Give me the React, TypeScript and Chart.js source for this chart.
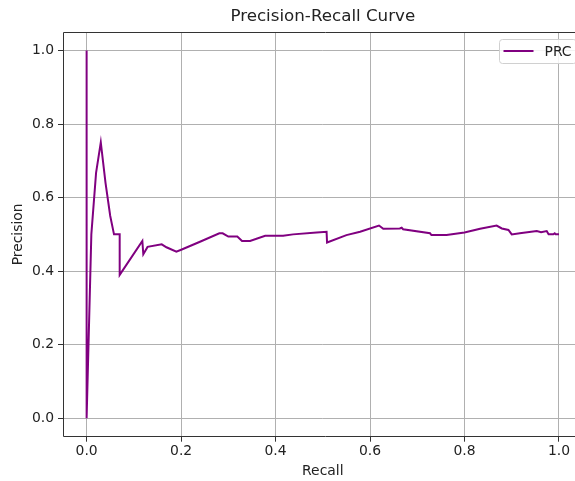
import React, { useEffect, useRef } from "react";
import { Chart, registerables } from "chart.js";

Chart.register(...registerables);

const chartTitle = "Precision-Recall Curve";
const xAxisTitle = "Recall";
const yAxisTitle = "Precision";
const seriesLabel = "PRC";

const recall = [
  0, 0, 0.01, 0.02, 0.03, 0.04, 0.05, 0.058, 0.07, 0.07, 0.118, 0.12, 0.129, 0.159, 0.169, 0.19,
  0.2015, 0.24, 0.281, 0.288, 0.3, 0.319, 0.329, 0.346, 0.378, 0.416, 0.437, 0.487, 0.508, 0.509,
  0.55, 0.579, 0.619, 0.628, 0.663, 0.667, 0.67, 0.727, 0.73, 0.762, 0.8, 0.833, 0.868, 0.879,
  0.893, 0.9, 0.917, 0.953, 0.962, 0.974, 0.978, 0.988, 0.991, 0.993, 1.0,
];
const precision = [
  1, 0, 0.5, 0.667, 0.75, 0.64, 0.55, 0.5, 0.5, 0.39, 0.482, 0.446, 0.466, 0.473, 0.465, 0.453,
  0.459, 0.48, 0.503, 0.503, 0.494, 0.494, 0.482, 0.482, 0.496, 0.496, 0.5, 0.505, 0.507, 0.478,
  0.498, 0.507, 0.524, 0.515, 0.516, 0.518, 0.514, 0.503, 0.498, 0.498, 0.505, 0.515, 0.524, 0.516,
  0.512, 0.5, 0.503, 0.509, 0.506, 0.509, 0.5, 0.5, 0.503, 0.5, 0.5,
];
const tickValues = [0, 0.2, 0.4, 0.6, 0.8, 1.0];

const FONT = "'DejaVu Sans', sans-serif";
const TEXT = "#222";
const LINE = "#800080";

const framePlugin = {
  id: "mplFrame",
  afterDraw(chart: any) {
    const { ctx, chartArea } = chart;
    const l = Math.round(chartArea.left) + 0.5;
    const r = Math.round(chartArea.right) - 0.5;
    const t = Math.round(chartArea.top) + 0.5;
    const b = Math.round(chartArea.bottom) - 0.5;
    ctx.save();
    ctx.strokeStyle = "#333";
    ctx.lineWidth = 1;
    ctx.beginPath();
    ctx.moveTo(r + 5, t);
    ctx.lineTo(l, t);
    ctx.lineTo(l, b);
    ctx.lineTo(r + 5, b);
    ctx.stroke();

    // legend (matplotlib style, inside upper right)
    const w = 77;
    const h = 24;
    const x = Math.round(chartArea.right - 7 - w) + 0.5;
    const y = Math.round(chartArea.top + 7) + 0.5;
    ctx.beginPath();
    ctx.roundRect(x, y, w, h, 3);
    ctx.fillStyle = "rgba(255,255,255,0.85)";
    ctx.fill();
    ctx.strokeStyle = "#d0d0d0";
    ctx.stroke();
    ctx.beginPath();
    ctx.moveTo(x + 4, y + 11.5);
    ctx.lineTo(x + 34, y + 11.5);
    ctx.strokeStyle = LINE;
    ctx.lineWidth = 2;
    ctx.stroke();
    ctx.fillStyle = TEXT;
    ctx.font = `13.9px ${FONT}`;
    ctx.textBaseline = "middle";
    ctx.textAlign = "left";
    ctx.fillText(seriesLabel, x + 45, y + 12.5);
    ctx.restore();
  },
};

export default function App() {
  const ref = useRef<HTMLCanvasElement | null>(null);

  useEffect(() => {
    if (!ref.current) return;
    const setTicks = (axis: any) => {
      axis.ticks = tickValues.map((v) => ({ value: v }));
    };
    const chart = new Chart(ref.current, {
      type: "scatter",
      data: {
        datasets: [
          {
            label: seriesLabel,
            data: recall.map((r, i) => ({ x: r, y: precision[i] })),
            showLine: true,
            borderColor: LINE,
            backgroundColor: LINE,
            borderWidth: 2,
            pointRadius: 0,
            pointHoverRadius: 0,
            tension: 0,
          },
        ],
      },
      options: {
        responsive: false,
        animation: false,
        events: [],
        layout: { padding: { left: 0, right: 17.4, top: 0, bottom: 0 } },
        plugins: {
          legend: { display: false },
          tooltip: { enabled: false },
          title: {
            display: true,
            text: chartTitle,
            fullSize: false,
            color: TEXT,
            font: { family: FONT, size: 16.7, weight: "normal", lineHeight: 1.2 },
            padding: { top: 6.3, bottom: 5.7 },
          },
        },
        scales: {
          x: {
            type: "linear",
            min: -0.05,
            max: 1.05,
            afterBuildTicks: setTicks,
            afterFit: (s: any) => {
              s.height = 44.3;
            },
            border: { display: false },
            grid: {
              color: "#b0b0b0",
              lineWidth: 1,
              tickColor: "#333",
              tickLength: 5,
              tickWidth: 1,
            },
            ticks: {
              color: TEXT,
              font: { family: FONT, size: 13.9, lineHeight: 1.2 },
              padding: 1.7,
              maxRotation: 0,
              callback: (v: any) => Number(v).toFixed(1),
            },
            title: {
              display: true,
              text: xAxisTitle,
              color: TEXT,
              font: { family: FONT, size: 13.9, lineHeight: 1.2 },
              padding: { top: 0, bottom: 1.7 },
            },
          },
          y: {
            type: "linear",
            min: -0.05,
            max: 1.05,
            afterBuildTicks: setTicks,
            afterFit: (s: any) => {
              s.width = 63;
            },
            border: { display: false },
            grid: {
              color: "#b0b0b0",
              lineWidth: 1,
              tickColor: "#333",
              tickLength: 5,
              tickWidth: 1,
            },
            ticks: {
              color: TEXT,
              font: { family: FONT, size: 13.9, lineHeight: 1.2 },
              padding: 4,
              callback: (v: any) => Number(v).toFixed(1),
            },
            title: {
              display: true,
              text: yAxisTitle,
              color: TEXT,
              font: { family: FONT, size: 13.9, lineHeight: 1.2 },
              padding: { top: 9.7, bottom: 0 },
            },
          },
        },
      },
      plugins: [framePlugin],
    });
    return () => chart.destroy();
  }, []);

  return (
    <div
      style={{
        position: "fixed",
        left: 0,
        top: 0,
        width: 575,
        height: 481,
        overflow: "hidden",
        background: "#fff",
      }}
    >
      <canvas ref={ref} width={600} height={481} style={{ display: "block" }} />
    </div>
  );
}
